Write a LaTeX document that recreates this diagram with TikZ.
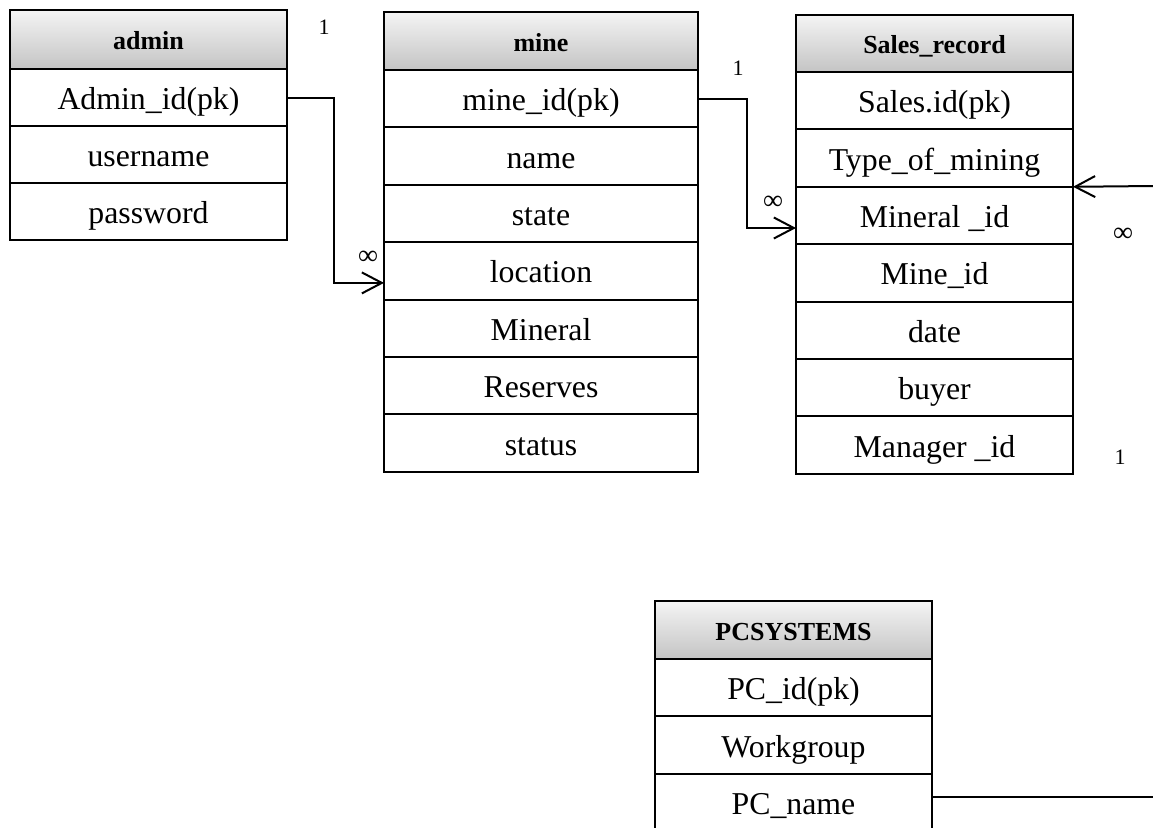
\documentclass[tikz,border=0pt]{standalone}
\usepackage{fontspec}
\setmainfont{Liberation Serif}
\usetikzlibrary{arrows.meta,calc}
\definecolor{hdrtop}{HTML}{F4F4F4}
\definecolor{hdrbot}{HTML}{C4C4C4}
\begin{document}
\begin{tikzpicture}[x=1pt,y=-1pt,
  tbl/.style={draw, line width=2pt, inner sep=0pt, outer sep=0pt},
  hdr/.style={tbl, top color=hdrtop, bottom color=hdrbot, anchor=north west,
     text height=26pt, text depth=6pt,
     font=\fontsize{26}{30}\selectfont\bfseries},
  rowbox/.style={tbl, fill=white, anchor=north, minimum height=57.4pt,
     text height=30pt, text depth=6pt,
     font=\fontsize{31.8}{36}\selectfont},
  lbl/.style={font=\fontsize{22}{26}\selectfont, inner sep=0pt},
  inf/.style={font=\fontsize{28}{30}\selectfont, inner sep=0pt},
  conn/.style={line width=2pt},
  arr/.style={conn, -{Straight Barb[length=20pt,width=21pt,line width=2pt]}}]
\useasboundingbox (0,0) rectangle (1153,827);
\clip (0,0) rectangle (1153,827);

% admin
\begin{scope}[every node/.append style={minimum width=277pt}]
\node[hdr, minimum height=59pt] (ah) at (10,10) {admin};
\node[rowbox, minimum height=57pt] (a1) at (ah.south) {Admin\_id(pk)};
\node[rowbox, minimum height=57pt] (a2) at (a1.south) {username};
\node[rowbox, minimum height=57pt] (a3) at (a2.south) {password};
\end{scope}

% mine
\begin{scope}[every node/.append style={minimum width=314pt}]
\node[hdr, minimum height=58pt] (mh) at (384,12) {mine};
\node[rowbox] (m1) at (mh.south) {mine\_id(pk)};
\node[rowbox] (m2) at (m1.south) {name};
\node[rowbox] (m3) at (m2.south) {state};
\node[rowbox] (m4) at (m3.south) {location};
\node[rowbox] (m5) at (m4.south) {Mineral};
\node[rowbox] (m6) at (m5.south) {Reserves};
\node[rowbox] (m7) at (m6.south) {status};
\end{scope}

% Sales_record
\begin{scope}[every node/.append style={minimum width=277pt}]
\node[hdr, minimum height=57pt] (sh) at (796,15) {Sales\_record};
\node[rowbox] (s1) at (sh.south) {Sales.id(pk)};
\node[rowbox] (s2) at (s1.south) {Type\_of\_mining};
\node[rowbox] (s3) at (s2.south) {Mineral \_id};
\node[rowbox] (s4) at (s3.south) {Mine\_id};
\node[rowbox] (s5) at (s4.south) {date};
\node[rowbox] (s6) at (s5.south) {buyer};
\node[rowbox] (s7) at (s6.south) {Manager \_id};
\end{scope}

% PCSYSTEMS
\begin{scope}[every node/.append style={minimum width=277pt}]
\node[hdr, minimum height=58pt] (ph) at (655,601) {PCSYSTEMS};
\node[rowbox] (p1) at (ph.south) {PC\_id(pk)};
\node[rowbox] (p2) at (p1.south) {Workgroup};
\node[rowbox] (p3) at (p2.south) {PC\_name};
\end{scope}

% connectors
\draw[arr] (a1.east) -- ++(47,0) |- ([yshift=-12pt]m4.west);
\draw[arr] (m1.east) -- ++(49,0) |- ([yshift=-12.5pt]s3.west);
\coordinate (rin) at (1153,186);
\draw[arr] (rin) -- (s3.north east);
\coordinate (rout) at (1153,797);
\draw[conn] (p3.east |- rout) -- (rout);

% labels
\node[lbl] (l1) at (324,27) {1};
\node[inf] (l2) at (368,258) {∞};
\node[lbl] (l3) at (738,68) {1};
\node[inf] (l4) at (773,203) {∞};
\node[inf] (l5) at (1123,235) {∞};
\node[lbl] (l6) at (1120,457) {1};
\end{tikzpicture}
\end{document}
